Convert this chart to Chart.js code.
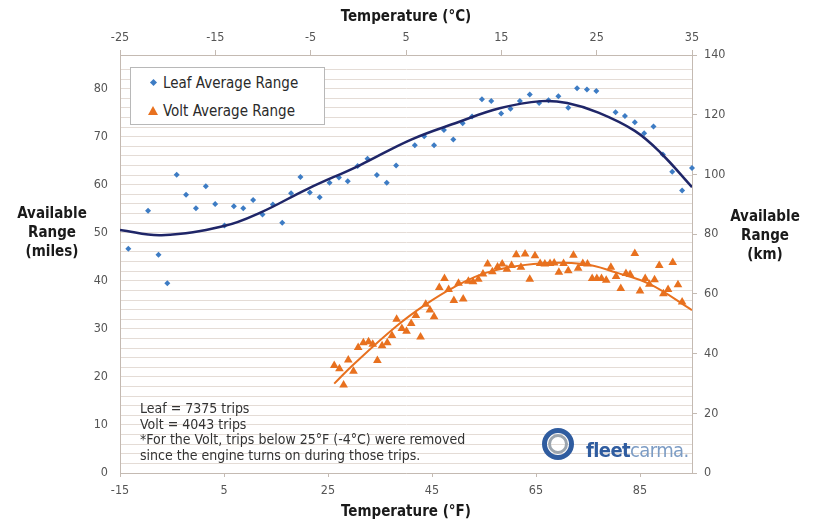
<!DOCTYPE html>
<html>
<head>
<meta charset="utf-8">
<script src="https://cdn.jsdelivr.net/npm/chart.js@4.4.0/dist/chart.umd.min.js"></script>
<style>
body { margin: 0; background: #fff; }
#wrap { position: relative; width: 820px; height: 522px; font-family: 'DejaVu Sans Condensed', 'DejaVu Sans', sans-serif; color: #222; }
#chart { position: absolute; left: 0; top: 0; }
.ytitle { position: absolute; text-align: center; font-weight: bold; font-size: 15px; line-height: 19px; color: #1a1a1a; }
#legend { position: absolute; left: 130px; top: 67px; width: 193px; height: 56px; border: 1px solid #b8b8b8; background: #fff; }
.lrow { position: absolute; left: 0; height: 20px; line-height: 20px; font-size: 15px; color: #2a2a2a; }
.lrow span.txt { position: absolute; left: 32px; white-space: nowrap; }
.diamond { position: absolute; left: 20px; top: 7px; width: 5px; height: 5px; background: #3d7cc4; transform: rotate(45deg); }
.tri { position: absolute; left: 17px; top: 5px; width: 0; height: 0; border-left: 5px solid transparent; border-right: 5px solid transparent; border-bottom: 9px solid #e8711f; }
#notes { position: absolute; left: 140px; top: 401px; font-size: 14px; line-height: 15.5px; color: #333; white-space: nowrap; }
#logo-ring { position: absolute; left: 542px; top: 428px; width: 32px; height: 32px; border-radius: 50%; border: 5px solid #2f5c9f; box-sizing: border-box; }
#logo-inner { position: absolute; left: 548px; top: 434px; width: 20px; height: 20px; border-radius: 50%; border: 3px solid #9ca5ae; box-sizing: border-box; }
#logo-text { position: absolute; left: 586px; top: 438px; font-size: 20px; line-height: 24px; letter-spacing: -0.6px; }
#logo-text .a { color: #2f5c9f; font-weight: bold; }
#logo-text .b { color: #7c9cc4; }
</style>
</head>
<body>
<div id="wrap">
  <canvas id="chart" width="820" height="522"></canvas>
  <div class="ytitle" style="left:0px; width:104px; top:204px;">Available<br>Range<br>(miles)</div>
  <div class="ytitle" style="left:712px; width:106px; top:207px;">Available<br>Range<br>(km)</div>
  <div id="legend">
    <div class="lrow" style="top:5px;"><div class="diamond"></div><span class="txt">Leaf Average Range</span></div>
    <div class="lrow" style="top:33px;"><div class="tri"></div><span class="txt">Volt Average Range</span></div>
  </div>
  <div id="notes">Leaf = 7375 trips<br>Volt = 4043 trips<br>*For the Volt, trips below 25°F (-4°C) were removed<br>since the engine turns on during those trips.</div>
  <div id="logo-ring"></div>
  <div id="logo-inner"></div>
  <div id="logo-text"><span class="a">fleet</span><span class="b">carma.</span></div>
</div>
<script>
// tick labels
const fTicks = [-15, 5, 25, 45, 65, 85];
const cTicks = [-25, -15, -5, 5, 15, 25, 35];
const kmTicks = [0, 20, 40, 60, 80, 100, 120, 140];

// Leaf average range (temperature in °F, range in miles)
const leafTemp = [-13.4, -9.6, -7.6, -5.9, -4.1, -2.3, -0.4, 1.5, 3.3, 5.1, 6.9, 8.7, 10.6, 12.4, 14.4, 16.2, 17.9, 19.7, 21.5, 23.4, 25.3, 27.1, 28.8, 30.7, 32.6, 34.4, 36.3, 38.1, 41.7, 43.5, 45.4, 47.3, 49.1, 50.9, 52.7, 54.6, 56.4, 58.3, 60.1, 61.9, 63.8, 65.6, 67.4, 69.3, 71.2, 72.9, 74.8, 76.6, 80.3, 82.1, 84.0, 85.8, 87.6, 89.4, 91.2, 93.1, 95.0];
const leafRange = [46.7, 54.6, 45.4, 39.5, 62.1, 57.9, 55.1, 59.7, 56.0, 51.5, 55.5, 55.1, 56.8, 53.8, 55.9, 52.1, 58.2, 61.6, 58.4, 57.4, 60.4, 61.5, 60.7, 63.9, 65.4, 62.0, 60.4, 64.0, 68.2, 70.1, 68.2, 71.4, 69.4, 72.8, 74.2, 77.8, 77.4, 74.8, 75.8, 77.4, 78.8, 77.0, 77.6, 78.4, 76.0, 80.1, 79.8, 79.5, 75.1, 74.3, 73.0, 70.7, 72.1, 66.3, 62.7, 58.8, 63.5];

// Volt average range
const voltTemp = [26.2, 27.2, 28.0, 28.9, 29.9, 30.8, 31.8, 32.8, 33.6, 34.5, 35.4, 36.4, 37.3, 38.2, 39.2, 40.1, 41.0, 41.9, 42.8, 43.8, 44.6, 45.4, 46.4, 47.4, 48.2, 49.2, 50.1, 51.0, 52.0, 52.9, 53.9, 54.8, 55.7, 56.6, 57.6, 58.5, 59.4, 60.3, 61.2, 62.1, 62.9, 63.8, 64.8, 65.8, 66.7, 67.7, 68.5, 69.4, 70.3, 71.2, 72.2, 73.1, 74.0, 74.9, 75.8, 76.7, 77.6, 78.5, 79.4, 80.4, 81.3, 82.3, 83.1, 84.0, 85.0, 86.0, 86.8, 87.8, 88.7, 89.5, 90.4, 91.3, 92.3, 93.1];
const voltRange = [22.4, 21.7, 18.3, 23.5, 21.2, 26.1, 27.1, 27.3, 26.8, 23.4, 26.5, 27.1, 28.6, 32.0, 30.1, 29.5, 31.1, 32.8, 28.3, 35.1, 33.9, 32.5, 38.6, 40.5, 38.2, 35.9, 39.5, 36.2, 39.9, 39.8, 40.3, 41.4, 43.5, 41.9, 42.9, 43.5, 42.4, 43.2, 45.4, 42.8, 45.6, 40.3, 45.2, 43.6, 43.5, 43.6, 43.7, 41.8, 43.6, 42.1, 45.3, 42.6, 43.6, 43.5, 40.5, 40.5, 40.5, 40.1, 42.8, 40.9, 38.4, 41.5, 41.3, 45.7, 37.9, 40.5, 39.3, 40.2, 43.2, 37.3, 38.2, 43.8, 39.2, 35.6];

// trend lines
const leafTrendTemp = [-15, -7, 5, 12, 21, 31, 41, 50, 58, 66, 71, 77, 84, 89, 95];
const leafTrendRange = [50.6, 49.5, 51.4, 54.2, 59.1, 64.0, 69.4, 73.0, 75.9, 77.4, 77.0, 75.0, 71.2, 66.6, 59.5];
const voltTrendTemp = [26.2, 29.9, 38.2, 43.8, 49.1, 55.5, 64.5, 74.1, 80.5, 86.9, 95];
const voltTrendRange = [18.6, 22.6, 30.6, 35.1, 38.6, 41.7, 43.5, 43.5, 41.7, 39.3, 33.9];

const toPoints = (xs, ys) => xs.map((x, i) => ({ x: x, y: ys[i] }));

const gridColor = '#e4dcd6';
const axisColor = '#c4bab2';
const tickFont = { size: 12.5 };

Chart.defaults.font.family = "'DejaVu Sans Condensed', 'DejaVu Sans', sans-serif";

new Chart(document.getElementById('chart').getContext('2d'), {
    type: 'scatter',
    data: {
        datasets: [
            {
                label: 'Leaf trend',
                type: 'line',
                data: toPoints(leafTrendTemp, leafTrendRange),
                borderColor: '#1f2668',
                borderWidth: 2.5,
                pointRadius: 0,
                tension: 0.4,
                fill: false,
                order: 0
            },
            {
                label: 'Volt trend',
                type: 'line',
                data: toPoints(voltTrendTemp, voltTrendRange),
                borderColor: '#e8711f',
                borderWidth: 2,
                pointRadius: 0,
                tension: 0.4,
                fill: false,
                order: 0
            },
            {
                label: 'Leaf Average Range',
                data: toPoints(leafTemp, leafRange),
                pointStyle: 'rectRot',
                pointRadius: 3,
                backgroundColor: '#3d7cc4',
                borderColor: '#3d7cc4',
                borderWidth: 0,
                clip: false,
                order: 1
            },
            {
                label: 'Volt Average Range',
                data: toPoints(voltTemp, voltRange),
                pointStyle: 'triangle',
                pointRadius: 5,
                backgroundColor: '#e8711f',
                borderColor: '#e8711f',
                borderWidth: 0,
                clip: false,
                order: 1
            }
        ]
    },
    options: {
        responsive: false,
        animation: false,
        layout: { padding: 0 },
        plugins: {
            legend: { display: false },
            tooltip: { enabled: false }
        },
        scales: {
            x: {
                type: 'linear',
                position: 'bottom',
                min: -15,
                max: 95,
                afterBuildTicks: s => { s.ticks = fTicks.map(v => ({ value: v })); },
                afterFit: s => { s.height = 49; },
                grid: { drawOnChartArea: false, color: axisColor, tickLength: 4 },
                border: { color: axisColor },
                ticks: { color: '#555', font: tickFont, padding: 6, maxRotation: 0 },
                title: { display: true, text: 'Temperature (°F)', color: '#1a1a1a', font: { size: 15, weight: 'bold' }, padding: { top: 0, bottom: 1 } }
            },
            x2: {
                type: 'linear',
                position: 'top',
                min: -25,
                max: 35,
                afterBuildTicks: s => { s.ticks = cTicks.map(v => ({ value: v })); },
                afterFit: s => { s.height = 55; },
                grid: { drawOnChartArea: false, color: axisColor, tickLength: 5 },
                border: { color: axisColor },
                ticks: { color: '#555', font: tickFont, padding: 5, maxRotation: 0 },
                title: { display: true, text: 'Temperature (°C)', color: '#1a1a1a', font: { size: 15, weight: 'bold' }, padding: { top: 8, bottom: 0 } }
            },
            y: {
                type: 'linear',
                position: 'left',
                min: 0,
                max: 87,
                afterFit: s => { s.width = 120; },
                grid: { color: gridColor, drawTicks: false },
                border: { color: axisColor },
                ticks: {
                    stepSize: 2,
                    autoSkip: false,
                    color: '#555',
                    font: tickFont,
                    padding: 12,
                    callback: v => (v % 10 === 0 ? v : '')
                }
            },
            y2: {
                type: 'linear',
                position: 'right',
                min: 0,
                max: 140,
                afterBuildTicks: s => { s.ticks = kmTicks.map(v => ({ value: v })); },
                afterFit: s => { s.width = 128; },
                grid: { drawOnChartArea: false, color: axisColor, tickLength: 5 },
                border: { color: axisColor },
                ticks: { color: '#555', font: tickFont, padding: 7 }
            }
        }
    }
});
</script>
</body>
</html>
